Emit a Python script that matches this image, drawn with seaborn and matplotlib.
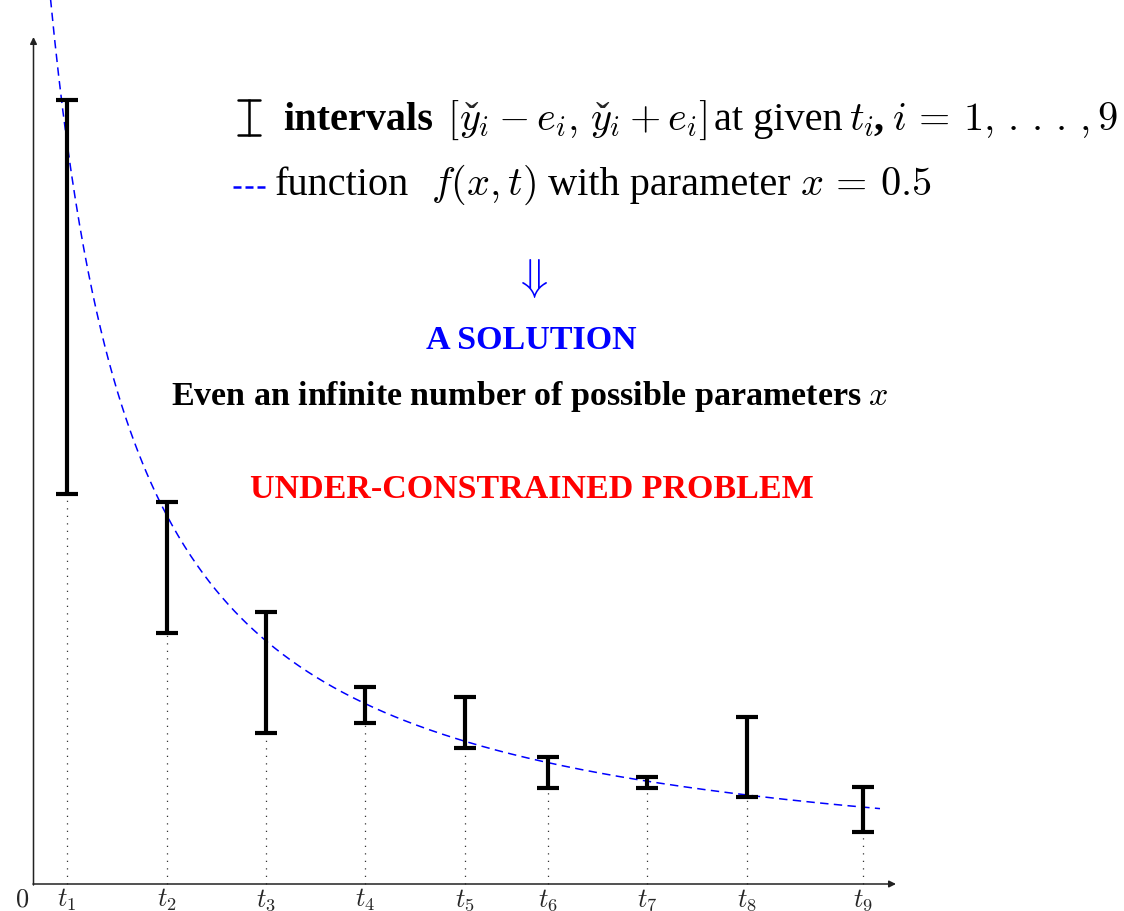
import numpy as np
import pandas as pd
import matplotlib
matplotlib.use("Agg")
import matplotlib.pyplot as plt
import seaborn as sns

# Measurement times t_i (axis units) and the intervals [y_i - e_i, y_i + e_i]
t_labels = [r"$t_{%d}$" % i for i in range(1, 10)]
t_values = [1.0, 4.0, 7.0, 10.0, 13.0, 15.5, 18.5, 21.5, 25.0]
y_centers = [5.87, 3.165, 2.115, 1.79, 1.615, 1.115, 1.015, 1.27, 0.745]
y_radii = [1.97, 0.655, 0.605, 0.18, 0.255, 0.155, 0.055, 0.40, 0.225]

# Model curve f(x, t) drawn for the parameter x = 0.5
param_x = 0.5
curve_scale = 25.98
curve_shift = 2.25
curve_power = 1.065
curve_t_range = (0.3, 25.52)


def f_model(t):
    return curve_scale / (t + curve_shift) ** curve_power


sns.set_theme(style="white")
plt.rcParams["font.family"] = ["Liberation Serif", "DejaVu Serif"]
plt.rcParams["mathtext.fontset"] = "cm"

W, H = 1124, 912
fig = plt.figure(figsize=(W / 100, H / 100), dpi=100)
ax = fig.add_axes([0, 0, 1, 1])

# pixel layout of the drawing area
X0, Y0, SX, SY = 34.0, 885.0, 33.15, 100.0


def px(x):
    return (x - X0) / SX


def py(y):
    return (Y0 - y) / SY


ax.set_xlim(px(0), px(W))
ax.set_ylim(py(H), py(0))
ax.axis("off")

# coordinate axes with arrow heads
arrow = dict(arrowstyle="-|>", color="#222222", lw=1.1, mutation_scale=10,
             shrinkA=0, shrinkB=0)
ax.annotate("", xy=(px(896), 0), xytext=(px(33), 0), arrowprops=arrow)
ax.annotate("", xy=(px(33.5), py(38)), xytext=(px(33.5), py(886)),
            arrowprops=arrow)

lower = [c - r for c, r in zip(y_centers, y_radii)]

# dotted guides from the axis up to each interval
ax.vlines(t_values, 0, lower, colors="#333333", linewidth=0.9,
          linestyles=[(0, (1, 5))], zorder=1)

# the dashed model curve
t_curve = np.linspace(*curve_t_range, 400)
curve_df = pd.DataFrame({"t": t_curve, "f": f_model(t_curve)})
sns.lineplot(data=curve_df, x="t", y="f", ax=ax, color="blue", linewidth=1.1,
             linestyle=(0, (5.5, 3.5)), estimator=None, sort=False,
             legend=False, zorder=2)

# the intervals
ax.errorbar(t_values, y_centers, yerr=y_radii, fmt="none", ecolor="black",
            elinewidth=3.0, capsize=8, capthick=3.0, zorder=3)

# tick labels along the t axis
for tv, lab in zip(t_values, t_labels):
    ax.text(tv, py(907), lab, fontsize=19, ha="center", va="baseline")
ax.text(px(22), py(907), r"$0$", fontsize=19, ha="center", va="baseline")

# legend glyphs
ax.plot([px(249), px(249)], [py(100), py(137)], color="black", lw=1.8,
        solid_capstyle="butt")
ax.plot([px(238), px(260)], [py(101), py(101)], color="black", lw=1.8)
ax.plot([px(238), px(260)], [py(136), py(136)], color="black", lw=1.8)
ax.plot([px(233), px(266)], [py(188), py(188)], color="blue", lw=1.8,
        linestyle=(0, (3.2, 1.6)), dash_capstyle="butt")

renderer = fig.canvas.get_renderer()


def text_run(x_start, baseline, parts, size, color="black"):
    """Lay text pieces out one after another; returns their pixel extents."""
    x = x_start
    boxes = []
    for s, weight, gap in parts:
        t = fig.text(x / W, 1 - baseline / H, s, fontsize=size,
                     fontweight=weight, color=color, ha="left",
                     va="baseline")
        bb = t.get_window_extent(renderer)
        boxes.append(bb)
        x = bb.x1 + gap
    return boxes


LEG_SIZE = 29
boxes = text_run(283, 130, [
    ("intervals", "bold", 14),
    (r"$[$", "normal", 0),
    (r"$y_i - e_i,$", "normal", 12),
    (r"$y_i + e_i]$", "normal", 7),
    ("at given", "normal", 6),
    (r"$t_i$", "normal", 0),
    (",", "bold", 9),
    (r"$i \,=\, 1,\,.\,.\,.\,,9$", "normal", 0),
], LEG_SIZE)

# caron accents over the two y symbols
for bb in (boxes[2], boxes[3]):
    fig.text((bb.x0 + 12) / W, 1 - 130 / H, "\u02c7", fontsize=LEG_SIZE,
             ha="center", va="baseline")

text_run(275, 195, [
    ("function", "normal", 22),
    (r"$f(x,t)$", "normal", 12),
    ("with parameter", "normal", 9),
    (r"$x \,=\, %.1f$" % param_x, "normal", 0),
], LEG_SIZE)

fig.text(531 / W, 1 - 279 / H, r"$\Downarrow$", fontsize=32, color="blue",
         ha="center", va="center")
fig.text(531 / W, 1 - 349 / H, "A SOLUTION", fontsize=24.5,
         fontweight="bold", color="blue", ha="center", va="baseline")
fig.text(530 / W, 1 - 405 / H,
         "Even an infinite number of possible parameters $x$",
         fontsize=24.5, fontweight="bold", color="black", ha="center",
         va="baseline")
fig.text(532 / W, 1 - 498 / H, "UNDER-CONSTRAINED PROBLEM", fontsize=24.5,
         fontweight="bold", color="red", ha="center", va="baseline")

fig.savefig("out.png", dpi=100, facecolor="white")
